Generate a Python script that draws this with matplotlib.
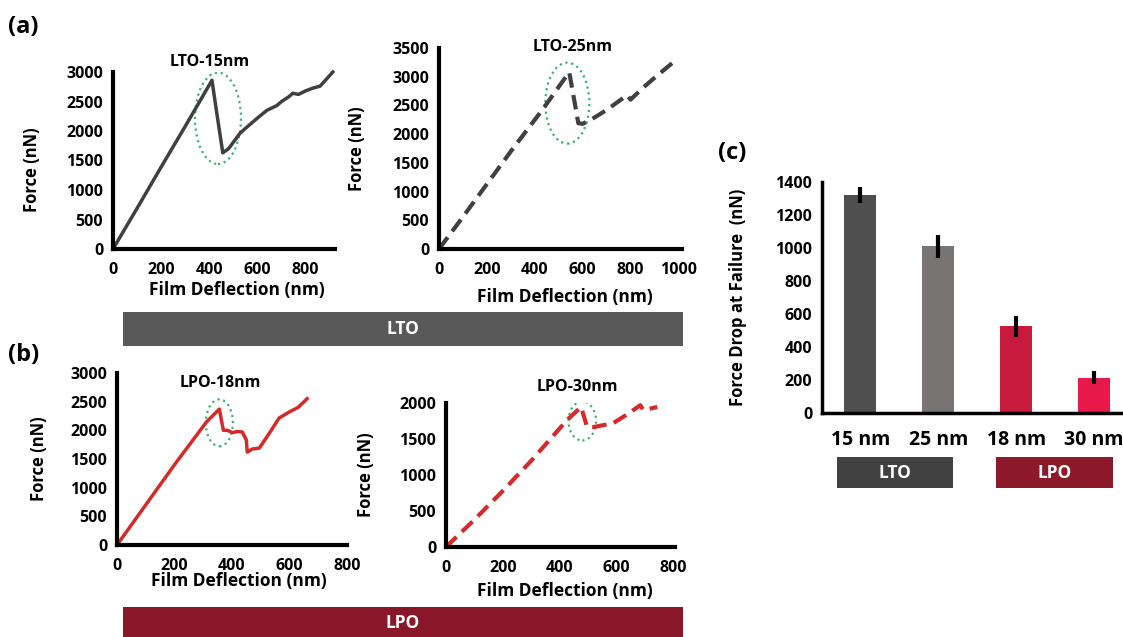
import numpy as np
import matplotlib
matplotlib.use("Agg")
import matplotlib.pyplot as plt
from matplotlib.patches import Ellipse, Rectangle

plt.rcParams['font.family'] = ['Open Sans', 'DejaVu Sans']
plt.rcParams['font.weight'] = 'bold'

# %% data
lto15_x = [0, 100, 200, 300, 360, 411, 433, 456, 480, 527, 560, 600, 639, 680,
           700, 730, 747, 770, 800, 830, 860, 880, 913]
lto15_y = [0, 690, 1390, 2080, 2500, 2860, 2250, 1630, 1700, 1960, 2080, 2220, 2350, 2430,
           2500, 2580, 2640, 2620, 2680, 2727, 2760, 2850, 3000]

lto25_x = [0, 100, 200, 300, 431, 544, 582, 600, 632, 700, 786, 800, 850, 900, 975]
lto25_y = [0, 560, 1130, 1700, 2420, 3080, 2190, 2180, 2245, 2420, 2680, 2600, 2800, 2980, 3240]

lpo18_x = [0, 100, 200, 311, 356, 370, 385, 400, 420, 436, 450, 453, 471, 495, 530, 564,
           599, 630, 661]
lpo18_y = [0, 700, 1400, 2145, 2370, 2000, 2000, 1960, 1980, 1970, 1830, 1620, 1675, 1690,
           1950, 2215, 2320, 2400, 2550]

lpo30_x = [0, 100, 200, 300, 426, 475, 496, 518, 588, 640, 683, 694, 743]
lpo30_y = [0, 380, 780, 1200, 1765, 1945, 1665, 1665, 1720, 1850, 1970, 1900, 1945]

bar_labels = ['15 nm', '25 nm', '18 nm', '30 nm']
bar_values = [1320, 1010, 525, 215]
bar_errors = [50, 70, 65, 40]
bar_colors = ['#4f4f4f', '#777473', '#c81a3c', '#e8194b']

W, H = 1123, 637


def rect(l, t, r, b):
    return [l / W, 1 - b / H, (r - l) / W, (b - t) / H]


def style(ax, xlim, ylim, xt, yt):
    ax.set_xlim(*xlim)
    ax.set_ylim(*ylim)
    ax.set_xticks(xt)
    ax.set_yticks(yt)
    for s in ['top', 'right']:
        ax.spines[s].set_visible(False)
    for s in ['left', 'bottom']:
        ax.spines[s].set_linewidth(3)
    ax.tick_params(length=0, labelsize=11.5)
    ax.tick_params(axis='y', pad=7)
    ax.tick_params(axis='x', pad=9)
    for lb in ax.get_xticklabels() + ax.get_yticklabels():
        lb.set_fontweight('bold')
    ax.patch.set_alpha(0)


fig = plt.figure(figsize=(W / 100, H / 100), dpi=100)

green = '#3cb371'

# (a) LTO-15nm
ax1 = fig.add_axes(rect(113, 72, 335, 249))
ax1.plot(lto15_x, lto15_y, color='#404040', lw=2.5, clip_on=False)
style(ax1, (0, 922), (0, 3000), [0, 200, 400, 600, 800], range(0, 3001, 500))
ax1.add_patch(Ellipse((436, 2215), 191, 1550, fill=False, ls=':', lw=1.6, ec=green))
ax1.text(402, 3170, 'LTO-15nm', ha='center', va='center', fontsize=11.5, fontweight='bold')
ax1.set_xlabel('Film Deflection (nm)', fontsize=12.5, fontweight='bold')
ax1.set_ylabel('Force (nN)', fontsize=12, fontweight='bold')
ax1.xaxis.set_label_coords(0.56, -0.18)
ax1.yaxis.set_label_coords(-0.325, 0.45)

# (a) LTO-25nm
ax2 = fig.add_axes(rect(439, 48, 682, 249))
ax2.plot(lto25_x, lto25_y, color='#404040', lw=3, ls=(0, (3.5, 1.8)), clip_on=False)
style(ax2, (0, 1015), (0, 3500), range(0, 1001, 200), range(0, 3501, 500))
ax2.add_patch(Ellipse((536, 2540), 184, 1410, fill=False, ls=':', lw=1.6, ec=green))
ax2.text(560, 3520, 'LTO-25nm', ha='center', va='center', fontsize=11.5, fontweight='bold')
ax2.set_xlabel('Film Deflection (nm)', fontsize=12.5, fontweight='bold')
ax2.set_ylabel('Force (nN)', fontsize=12, fontweight='bold')
ax2.xaxis.set_label_coords(0.52, -0.195)
ax2.yaxis.set_label_coords(-0.30, 0.5)

# (b) LPO-18nm
ax3 = fig.add_axes(rect(117, 373, 347, 545))
ax3.plot(lpo18_x, lpo18_y, color='#d42a2a', lw=2.5, clip_on=False)
style(ax3, (0, 796), (0, 3000), range(0, 801, 200), range(0, 3001, 500))
ax3.add_patch(Ellipse((356, 2130), 94, 820, fill=False, ls=':', lw=1.6, ec=green))
ax3.text(360, 2830, 'LPO-18nm', ha='center', va='center', fontsize=11.5, fontweight='bold')
ax3.set_xlabel('Film Deflection (nm)', fontsize=12.5, fontweight='bold')
ax3.set_ylabel('Force (nN)', fontsize=12, fontweight='bold')
ax3.xaxis.set_label_coords(0.53, -0.155)
ax3.yaxis.set_label_coords(-0.30, 0.5)

# (b) LPO-30nm
ax4 = fig.add_axes(rect(446, 403, 675, 547))
ax4.plot(lpo30_x, lpo30_y, color='#d42a2a', lw=3, ls=(0, (3.5, 1.8)), clip_on=False)
style(ax4, (0, 805), (0, 2000), range(0, 801, 200), range(0, 2001, 500))
ax4.add_patch(Ellipse((479, 1750), 97, 540, fill=False, ls=':', lw=1.6, ec=green))
ax4.text(461, 2220, 'LPO-30nm', ha='center', va='center', fontsize=11.5, fontweight='bold')
ax4.set_xlabel('Film Deflection (nm)', fontsize=12.5, fontweight='bold')
ax4.set_ylabel('Force (nN)', fontsize=12, fontweight='bold')
ax4.xaxis.set_label_coords(0.52, -0.24)
ax4.yaxis.set_label_coords(-0.31, 0.5)

# (c) bars
ax5 = fig.add_axes(rect(822, 182, 1123, 413))
xs = np.arange(len(bar_values))
ax5.bar(xs, bar_values, width=0.41, color=bar_colors)
ax5.errorbar(xs, bar_values, yerr=bar_errors, fmt='none', ecolor='black', elinewidth=3, capsize=0)
style(ax5, (-0.49, 3.37), (0, 1400), xs, range(0, 1401, 200))
ax5.spines['left'].set_linewidth(2.5)
ax5.spines['bottom'].set_linewidth(2.5)
ax5.set_xticklabels(bar_labels, fontsize=14, fontweight='bold')
ax5.tick_params(axis='x', pad=12)
ax5.set_ylabel('Force Drop at Failure  (nN)', fontsize=12, fontweight='bold')
ax5.yaxis.set_label_coords(-0.25, 0.5)

# bands and group boxes
bands = [((123, 312, 683, 346), '#595959', 'LTO'),
         ((123, 607, 683, 640), '#8a1729', 'LPO'),
         ((837, 457, 953, 488), '#414141', 'LTO'),
         ((996, 457, 1113, 488), '#8c1a2a', 'LPO')]
for (l, t, r, b), c, name in bands:
    fig.add_artist(Rectangle((l / W, 1 - b / H), (r - l) / W, (b - t) / H,
                             transform=fig.transFigure, color=c, lw=0))
    fig.text((l + r) / 2 / W, 1 - (t + b) / 2 / H, name, color='white', ha='center',
             va='center', fontsize=12.5, fontweight='bold')

# panel letters
fig.text(8 / W, 1 - 27 / H, '(a)', fontsize=17, fontweight='bold', va='center')
fig.text(8 / W, 1 - 355 / H, '(b)', fontsize=17, fontweight='bold', va='center')
fig.text(718 / W, 1 - 153 / H, '(c)', fontsize=17, fontweight='bold', va='center')

fig.savefig('out.png', dpi=100)
